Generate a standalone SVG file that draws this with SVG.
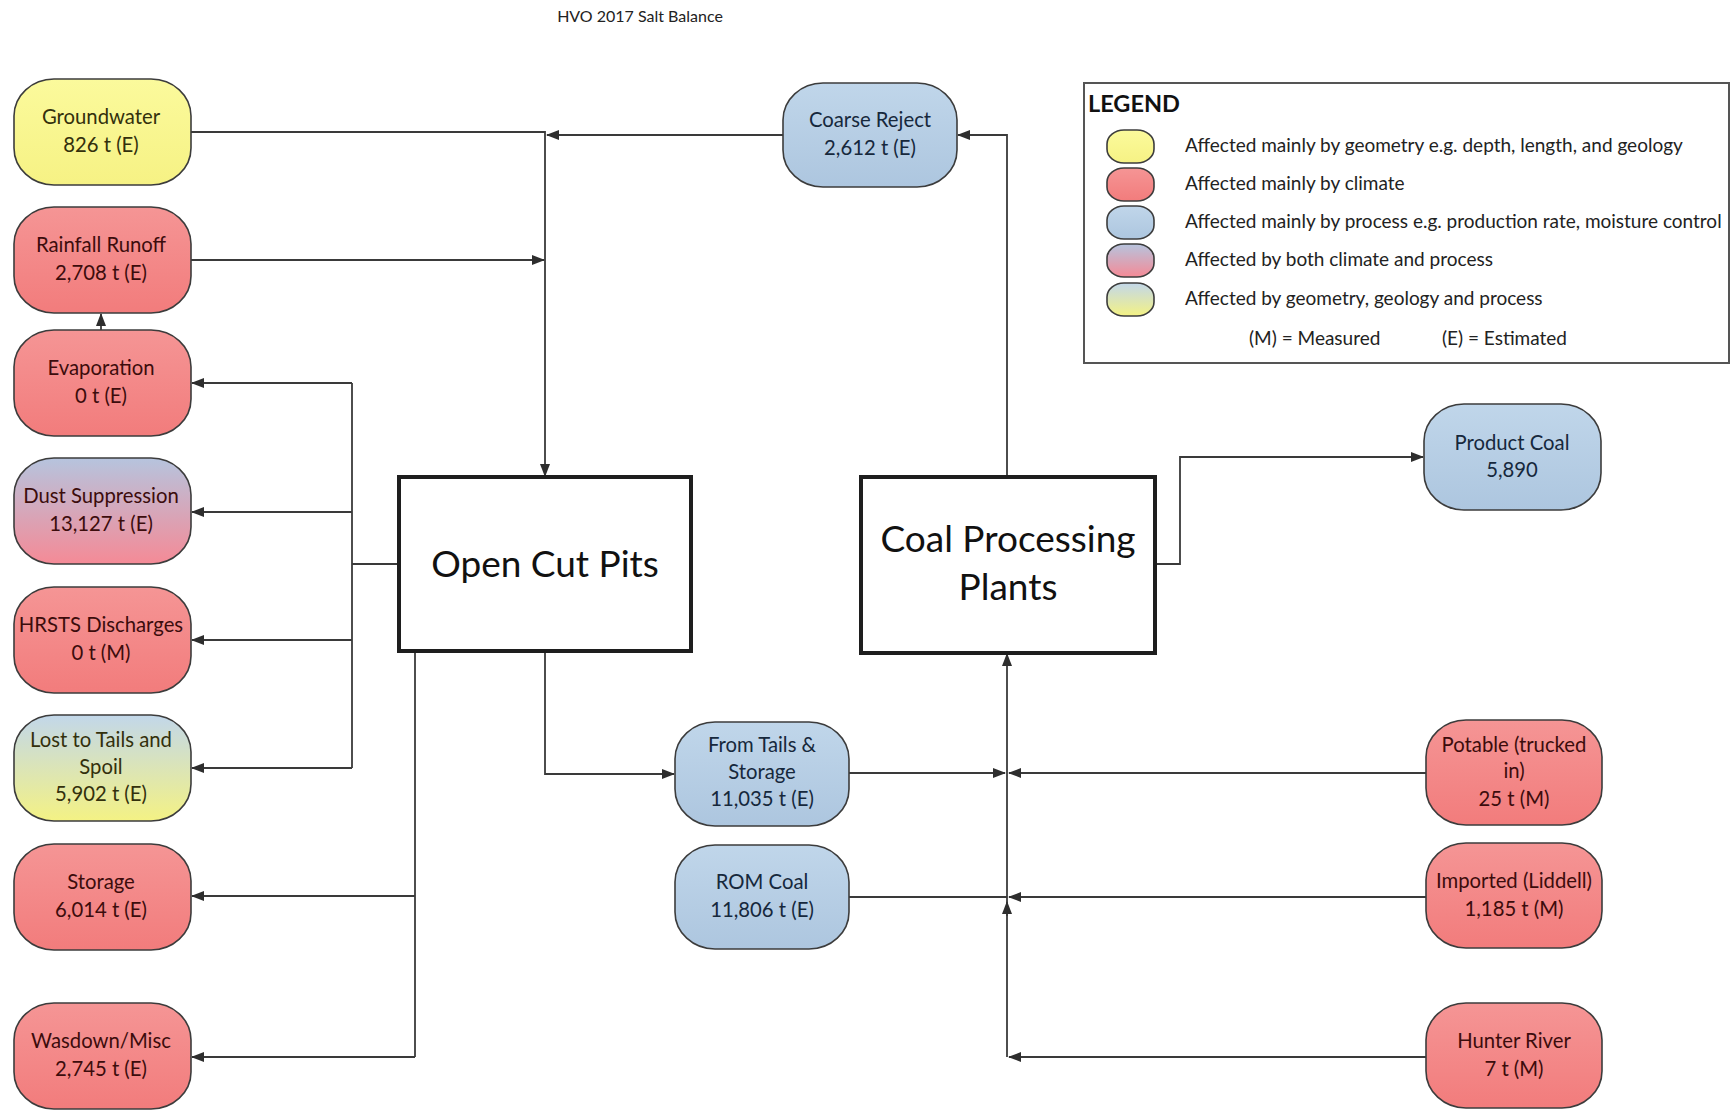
<svg xmlns="http://www.w3.org/2000/svg" width="1731" height="1111" viewBox="0 0 1731 1111">
<style>
.bg{fill:#ffffff}
.node{stroke:#3c3c3c;stroke-width:1.6}
.red{fill:url(#gRed)}
.yel{fill:url(#gYel)}
.blu{fill:url(#gBlu)}
.mix1{fill:url(#gMix1)}
.mix2{fill:url(#gMix2)}
.box{fill:#ffffff;stroke:#1e1e1e;stroke-width:4}
.t{font-family:Lato,"Liberation Sans",sans-serif;font-size:20.3px;text-anchor:middle}
.tr{fill:#3c0c0c}
.ty{fill:#33300c}
.tb{fill:#16283c}
.big{font-family:Lato,"Liberation Sans",sans-serif;font-size:37px;text-anchor:middle;fill:#111}
.lg{font-family:Lato,"Liberation Sans",sans-serif;font-size:19px;fill:#222}
.conn path{fill:none;stroke:#3a3a3a;stroke-width:1.8}
</style>
<defs>
<linearGradient id="gRed" x1="0" y1="0" x2="0" y2="1"><stop offset="0" stop-color="#f59595"/><stop offset="1" stop-color="#f27c7c"/></linearGradient>
<linearGradient id="gYel" x1="0" y1="0" x2="0" y2="1"><stop offset="0" stop-color="#fbfa9c"/><stop offset="1" stop-color="#f6f284"/></linearGradient>
<linearGradient id="gBlu" x1="0" y1="0" x2="0" y2="1"><stop offset="0" stop-color="#c0d6ea"/><stop offset="1" stop-color="#adc6df"/></linearGradient>
<linearGradient id="gMix1" x1="0" y1="0" x2="0" y2="1"><stop offset="0" stop-color="#b6c4de"/><stop offset="1" stop-color="#f58a96"/></linearGradient>
<linearGradient id="gMix2" x1="0" y1="0" x2="0" y2="1"><stop offset="0" stop-color="#c2d7ea"/><stop offset="1" stop-color="#f4f284"/></linearGradient>
<marker id="arr" markerUnits="userSpaceOnUse" markerWidth="13" markerHeight="10" refX="12" refY="5" orient="auto"><path d="M0,0 L13,5 L0,10 z" fill="#2e2e2e"/></marker>
</defs>
<rect class="bg" x="0" y="0" width="1731" height="1111"/>

<text x="640" y="22" font-family="Lato,'Liberation Sans',sans-serif" font-size="16" text-anchor="middle" fill="#222">HVO 2017 Salt Balance</text>

<g class="conn" id="connectors">
<path d="M191,132 H545 V476" marker-end="url(#arr)"/>
<path d="M783,135 H547" marker-end="url(#arr)"/>
<path d="M191,260 H544" marker-end="url(#arr)"/>
<path d="M101,330 V314" marker-end="url(#arr)"/>
<path d="M399,564 H352"/>
<path d="M352,383 V768"/>
<path d="M352,383 H192" marker-end="url(#arr)"/>
<path d="M352,512 H192" marker-end="url(#arr)"/>
<path d="M352,640 H192" marker-end="url(#arr)"/>
<path d="M352,768 H192" marker-end="url(#arr)"/>
<path d="M415,651 V1057"/>
<path d="M415,896 H192" marker-end="url(#arr)"/>
<path d="M415,1057 H192" marker-end="url(#arr)"/>
<path d="M545,651 V774 H674" marker-end="url(#arr)"/>
<path d="M849,773 H1005" marker-end="url(#arr)"/>
<path d="M1426,773 H1009" marker-end="url(#arr)"/>
<path d="M849,897 H1007"/>
<path d="M1426,897 H1009" marker-end="url(#arr)"/>
<path d="M1426,1057 H1009" marker-end="url(#arr)"/>
<path d="M1007,1057 V654" marker-end="url(#arr)"/>
<path d="M1007,916 V902" marker-end="url(#arr)"/>
<path d="M1007,477 V135 H958" marker-end="url(#arr)"/>
<path d="M1155,564 H1180 V457 H1423" marker-end="url(#arr)"/>
</g>

<g id="groundwater"><rect class="node yel" x="14" y="79" width="177" height="106" rx="40" ry="37"/><text class="t ty" x="101" y="124">Groundwater</text><text class="t ty" x="101" y="152">826 t (E)</text></g>
<g id="rainfall-runoff"><rect class="node red" x="14" y="207" width="177" height="106" rx="40" ry="37"/><text class="t tr" x="101" y="252">Rainfall Runoff</text><text class="t tr" x="101" y="280">2,708 t (E)</text></g>
<g id="evaporation"><rect class="node red" x="14" y="330" width="177" height="106" rx="40" ry="37"/><text class="t tr" x="101" y="375">Evaporation</text><text class="t tr" x="101" y="403">0 t (E)</text></g>
<g id="dust-suppression"><rect class="node mix1" x="14" y="458" width="177" height="106" rx="40" ry="37"/><text class="t tr" x="101" y="503">Dust Suppression</text><text class="t tr" x="101" y="531">13,127 t (E)</text></g>
<g id="hrsts-discharges"><rect class="node red" x="14" y="587" width="177" height="106" rx="40" ry="37"/><text class="t tr" x="101" y="632">HRSTS Discharges</text><text class="t tr" x="101" y="660">0 t (M)</text></g>
<g id="lost-to-tails"><rect class="node mix2" x="14" y="715" width="177" height="106" rx="40" ry="37"/><text class="t ty" x="101" y="747">Lost to Tails and</text><text class="t ty" x="101" y="774">Spoil</text><text class="t ty" x="101" y="801">5,902 t (E)</text></g>
<g id="storage"><rect class="node red" x="14" y="844" width="177" height="106" rx="40" ry="37"/><text class="t tr" x="101" y="889">Storage</text><text class="t tr" x="101" y="917">6,014 t (E)</text></g>
<g id="wasdown-misc"><rect class="node red" x="14" y="1003" width="177" height="106" rx="40" ry="37"/><text class="t tr" x="101" y="1048">Wasdown/Misc</text><text class="t tr" x="101" y="1076">2,745 t (E)</text></g>

<g id="open-cut-pits"><rect class="box" x="399" y="477" width="292" height="174"/><text class="big" x="545" y="577">Open Cut Pits</text></g>
<g id="coal-processing-plants"><rect class="box" x="861" y="477" width="294" height="176"/><text class="big" x="1008" y="552">Coal Processing</text><text class="big" x="1008" y="600">Plants</text></g>

<g id="coarse-reject"><rect class="node blu" x="783" y="83" width="174" height="104" rx="40" ry="37"/><text class="t tb" x="870" y="127">Coarse Reject</text><text class="t tb" x="870" y="155">2,612 t (E)</text></g>
<g id="product-coal"><rect class="node blu" x="1424" y="404" width="177" height="106" rx="40" ry="37"/><text class="t tb" x="1512" y="450">Product Coal</text><text class="t tb" x="1512" y="477">5,890</text></g>
<g id="from-tails-storage"><rect class="node blu" x="675" y="722" width="174" height="104" rx="40" ry="37"/><text class="t tb" x="762" y="752">From Tails &amp;</text><text class="t tb" x="762" y="779">Storage</text><text class="t tb" x="762" y="806">11,035 t (E)</text></g>
<g id="rom-coal"><rect class="node blu" x="675" y="845" width="174" height="104" rx="40" ry="37"/><text class="t tb" x="762" y="889">ROM Coal</text><text class="t tb" x="762" y="917">11,806 t (E)</text></g>
<g id="potable"><rect class="node red" x="1426" y="720" width="176" height="105" rx="40" ry="37"/><text class="t tr" x="1514" y="752">Potable (trucked</text><text class="t tr" x="1514" y="778">in)</text><text class="t tr" x="1514" y="806">25 t (M)</text></g>
<g id="imported-liddell"><rect class="node red" x="1426" y="843" width="176" height="105" rx="40" ry="37"/><text class="t tr" x="1514" y="888">Imported (Liddell)</text><text class="t tr" x="1514" y="916">1,185 t (M)</text></g>
<g id="hunter-river"><rect class="node red" x="1426" y="1003" width="176" height="105" rx="40" ry="37"/><text class="t tr" x="1514" y="1048">Hunter River</text><text class="t tr" x="1514" y="1076">7 t (M)</text></g>

<g id="legend">
<rect x="1084" y="83" width="645" height="280" fill="#ffffff" stroke="#555" stroke-width="2"/>
<text x="1088" y="112" font-family="Lato,'Liberation Sans',sans-serif" font-size="23.5" font-weight="bold" fill="#111">LEGEND</text>
<rect class="node yel" x="1107" y="130" width="47" height="33" rx="17" ry="14"/>
<rect class="node red" x="1107" y="168" width="47" height="33" rx="17" ry="14"/>
<rect class="node blu" x="1107" y="206" width="47" height="33" rx="17" ry="14"/>
<rect class="node mix1" x="1107" y="244" width="47" height="33" rx="17" ry="14"/>
<rect class="node mix2" x="1107" y="283" width="47" height="33" rx="17" ry="14"/>
<text class="lg" x="1185" y="152">Affected mainly by geometry e.g. depth, length, and geology</text>
<text class="lg" x="1185" y="190">Affected mainly by climate</text>
<text class="lg" x="1185" y="228">Affected mainly by process e.g. production rate, moisture control</text>
<text class="lg" x="1185" y="266">Affected by both climate and process</text>
<text class="lg" x="1185" y="305">Affected by geometry, geology and process</text>
<text class="lg" x="1249" y="345">(M) = Measured</text>
<text class="lg" x="1442" y="345">(E) = Estimated</text>
</g>
</svg>
